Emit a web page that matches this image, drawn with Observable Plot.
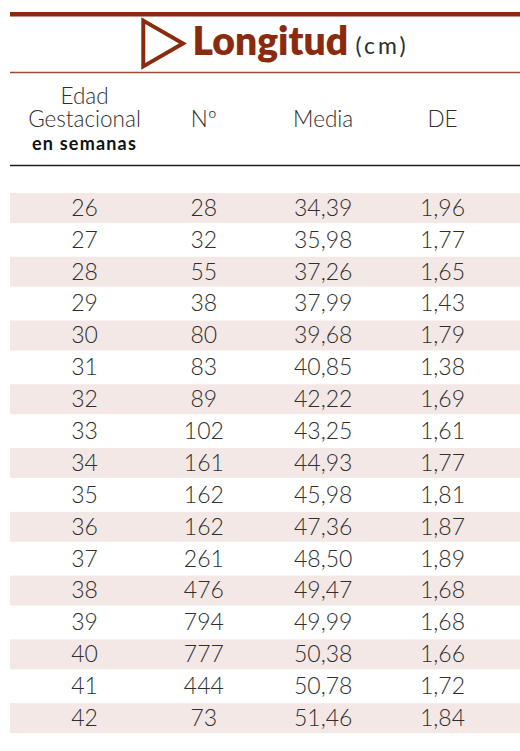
<!DOCTYPE html>
<html><head><meta charset="utf-8">
<script src="https://cdn.jsdelivr.net/npm/d3@7"></script>
<script src="https://cdn.jsdelivr.net/npm/@observablehq/plot@0.6"></script>
<style>body{margin:0;background:#fff}</style>
</head><body><div id="chart"></div>
<script>
const ages = [26,27,28,29,30,31,32,33,34,35,36,37,38,39,40,41,42];
const counts = [28,32,55,38,80,83,89,102,161,162,162,261,476,794,777,444,73];
const means = [34.39,35.98,37.26,37.99,39.68,40.85,42.22,43.25,44.93,45.98,47.36,48.50,49.47,49.99,50.38,50.78,51.46];
const sds = [1.96,1.77,1.65,1.43,1.79,1.38,1.69,1.61,1.77,1.81,1.87,1.89,1.68,1.68,1.66,1.72,1.84];
const columns = ["edad","n","media","de"];
const headerTop = ["Edad"];
const headerMid = ["Gestacional","Nº","Media","DE"];
const headerSub = ["en semanas"];
const title = "Longitud";
const unit = "(cm)";

const fmt = v => v.toFixed(2).replace(".", ",");
const rows = ages.map((a, i) => ({age: String(a), i, n: counts[i], media: means[i], de: sds[i]}));
const cells = rows.flatMap(r => [
  {col: "edad", age: r.age, text: r.age},
  {col: "n", age: r.age, text: String(r.n)},
  {col: "media", age: r.age, text: fmt(r.media)},
  {col: "de", age: r.age, text: fmt(r.de)}
]);
const head2 = columns.map((c, i) => ({col: c, label: headerMid[i]}));

const RED = "#8a2b10";
const INK = "#2e2e2e";

function decorations(index, scales, values, dims) {
  const g = d3.create("svg:g");
  const x1 = dims.marginLeft, x2 = dims.width - dims.marginRight;
  g.append("line").attr("x1", x1).attr("x2", x2).attr("y1", 14.3).attr("y2", 14.3)
    .attr("stroke", RED).attr("stroke-width", 4.5);
  g.append("line").attr("x1", x1).attr("x2", x2).attr("y1", 72.5).attr("y2", 72.5)
    .attr("stroke", "#a04a30").attr("stroke-width", 1.5);
  g.append("line").attr("x1", x1).attr("x2", x2).attr("y1", 165.5).attr("y2", 165.5)
    .attr("stroke", "#1e1e1e").attr("stroke-width", 1.5);
  return g.node();
}

const plot = Plot.plot({
  width: 520, height: 751,
  marginTop: 192, marginBottom: 17, marginLeft: 10, marginRight: 0,
  style: {fontFamily: "Lato, 'Open Sans', sans-serif", background: "#fff", overflow: "visible"},
  x: {type: "point", domain: columns, range: [84, 442], padding: 0, round: false, axis: null},
  y: {type: "band", domain: ages.map(String), padding: 0, round: false, axis: null},
  marks: [
    Plot.cell(rows.filter(d => d.i % 2 === 0), {y: "age", fill: "#f3e8e6", insetTop: 1, insetBottom: 1}),
    Plot.text(cells, {x: "col", y: "age", text: "text", fontSize: 23, fontWeight: 300, fill: INK}),
    decorations,
    Plot.text(headerTop, {x: () => "edad", text: d => d, frameAnchor: "top", lineAnchor: "middle", dy: -96, fontSize: 22.5, fontWeight: 300, fill: INK}),
    Plot.text(head2, {x: "col", text: "label", frameAnchor: "top", lineAnchor: "middle", dy: -73, fontSize: 22.5, fontWeight: 300, fill: INK}),
    Plot.text(headerSub, {x: () => "edad", text: d => d, frameAnchor: "top", lineAnchor: "middle", dy: -48, fontSize: 18, fontWeight: 700, fill: "#111"}),
    Plot.dot([title], {frameAnchor: "top-left", dx: 146, dy: -149, symbol: "triangle", r: 17, rotate: 90, stroke: RED, strokeWidth: 4, fill: "none", strokeLinejoin: "miter"}),
    Plot.text([title], {frameAnchor: "top-left", lineAnchor: "middle", dx: 182, dy: -150, textAnchor: "start", fontSize: 39, fontWeight: 800, fill: RED}),
    Plot.text([unit], {frameAnchor: "top-left", lineAnchor: "middle", dx: 345, dy: -146, textAnchor: "start", fontSize: 23, fontWeight: 400, fill: INK})
  ]
});
// letter spacing for the spaced-out texts
d3.select(plot).selectAll("text").filter(function () { return this.textContent === unit; })
  .attr("letter-spacing", "3px");
d3.select(plot).selectAll("text").filter(function () { return this.textContent === headerSub[0]; })
  .attr("letter-spacing", "1.2px");
document.getElementById("chart").append(plot);
</script>
</body></html>
